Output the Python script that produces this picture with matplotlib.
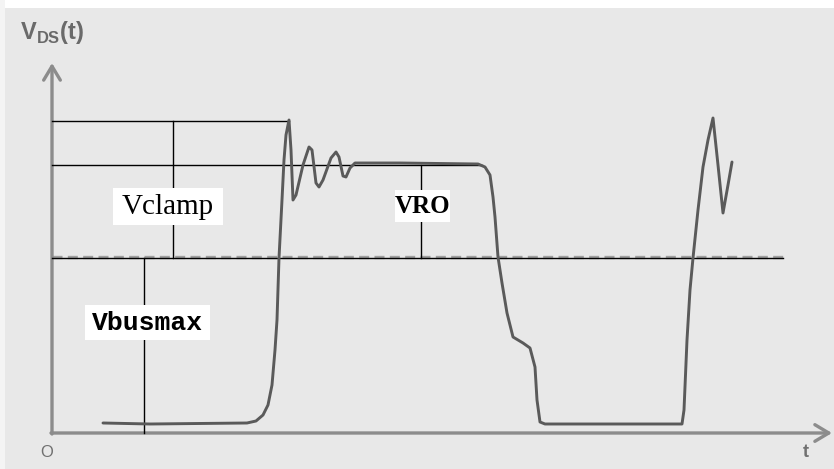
import matplotlib
matplotlib.use("Agg")
import matplotlib.pyplot as plt
from matplotlib.patches import Rectangle

# ---- data (time units / voltage units, origin at the axes corner) ----
wave_t = [51, 98, 195, 204, 211, 216, 220, 223, 225, 227, 230, 232, 234, 237,
          239, 241, 244, 251, 257, 260, 264, 267, 271, 279, 284, 287, 291, 294,
          298, 303, 348, 426, 433, 438, 441, 443, 446, 450, 455, 461, 471, 478,
          483, 485, 488, 493, 630, 632, 635, 638, 641, 646, 651, 656, 661, 666,
          671, 676, 680]
wave_v = [10, 9, 10, 12, 18, 28, 48, 83, 113, 175, 233, 273, 298, 313,
          283, 233, 238, 268, 286, 283, 250, 246, 253, 275, 281, 276, 257, 256,
          265, 270, 270, 269, 266, 258, 236, 216, 176, 150, 120, 96, 90, 85,
          66, 33, 11, 9, 9, 23, 93, 143, 175, 223, 266, 293, 315, 268,
          220, 248, 271]

v_clamp_top = 312
v_ro = 268
v_bus = 175
t_clamp_end = 237
t_ro_end = 430
t_bus_end = 731
t_axis_end = 780
v_axis_end = 370

labels = ["Vclamp", "VRO", "Vbusmax"]

# ---- figure ----
W, H = 834, 469
fig = plt.figure(figsize=(W / 100, H / 100), dpi=100)
fig.patch.set_facecolor("#e8e8e8")
fig.patches.append(Rectangle((0, 1 - 8 / H), 1, 8 / H, transform=fig.transFigure,
                             facecolor="white", edgecolor="none", zorder=0))
fig.patches.append(Rectangle((0, 0), 5 / W, 1, transform=fig.transFigure,
                             facecolor="#f4f4f4", edgecolor="none", zorder=0))
ax = fig.add_axes([0, 0, 1, 1])
ax.set_xlim(-52, W - 52)
ax.set_ylim(-(H - 433), 433)
ax.axis("off")
ax.patch.set_alpha(0)

axis_col = "#8c8c8c"
wave_col = "#5a5a5a"

# axes with open arrow heads
arrow_kw = dict(arrowstyle="->,head_length=1.0,head_width=0.6", color=axis_col, lw=2.4,
                shrinkA=0, shrinkB=0)
ax.annotate("", xy=(0, v_axis_end), xytext=(0, -1), arrowprops=arrow_kw)
ax.annotate("", xy=(t_axis_end, 0), xytext=(-1, 0), arrowprops=arrow_kw)

# reference levels
ax.plot([0, t_clamp_end], [v_clamp_top, v_clamp_top], color="black", lw=1.0, zorder=3)
ax.plot([0, t_ro_end], [v_ro, v_ro], color="black", lw=1.0, zorder=3)
ax.plot([0, t_bus_end], [v_bus + 1.5, v_bus + 1.5], color="#a0a0a0", lw=2.4,
        dashes=(3, 1.6), zorder=2)
ax.plot([0, t_bus_end], [v_bus, v_bus], color="black", lw=1.0, zorder=3)

# waveform
ax.plot(wave_t, wave_v, color=wave_col, lw=2.1, solid_joinstyle="round",
        solid_capstyle="round", zorder=4)

# marker lines and labels
def marker(t, v_top, v_bot, box_top, box_bot):
    ax.plot([t, t], [v_top, box_top], color="black", lw=1.0, zorder=3)
    ax.plot([t, t], [box_bot, v_bot], color="black", lw=1.0, zorder=3)

marker(121, v_clamp_top, v_bus, 245, 208)
marker(369, v_ro, v_bus, 243, 211)
marker(92, v_bus, 0, 128, 93)

def label(text, t0, t1, v0, v1, **kw):
    ax.add_patch(Rectangle((t0, v0), t1 - t0, v1 - v0, facecolor="white",
                           edgecolor="none", zorder=5))
    ax.text((t0 + t1) / 2, (v0 + v1) / 2, text, ha="center", va="center",
            zorder=6, color="black", **kw)

label(labels[0], 61, 171, 208, 245, family="Liberation Serif", fontsize=21)
label(labels[1], 343, 398, 211, 243, family="Liberation Serif", fontsize=18,
      fontweight="bold")
label(labels[2], 33, 158, 93, 128, family="Liberation Mono", fontsize=19,
      fontweight="bold")

# axis texts
plt.rcParams["mathtext.fontset"] = "custom"
plt.rcParams["mathtext.rm"] = "Liberation Sans:bold"
ax.text(-32, 401, r"V$_{\rm DS}$(t)", family="Liberation Sans", fontsize=17,
        color="#6a6a6a", ha="left", va="center", fontweight="bold")
ax.text(-5, -19, "O", family="Liberation Sans", fontsize=12, color="#707070",
        ha="center", va="center")
ax.text(754, -19, "t", family="Liberation Sans", fontsize=13, color="#707070",
        ha="center", va="center", fontweight="bold")

fig.savefig("out.png", dpi=100, facecolor=fig.get_facecolor())
